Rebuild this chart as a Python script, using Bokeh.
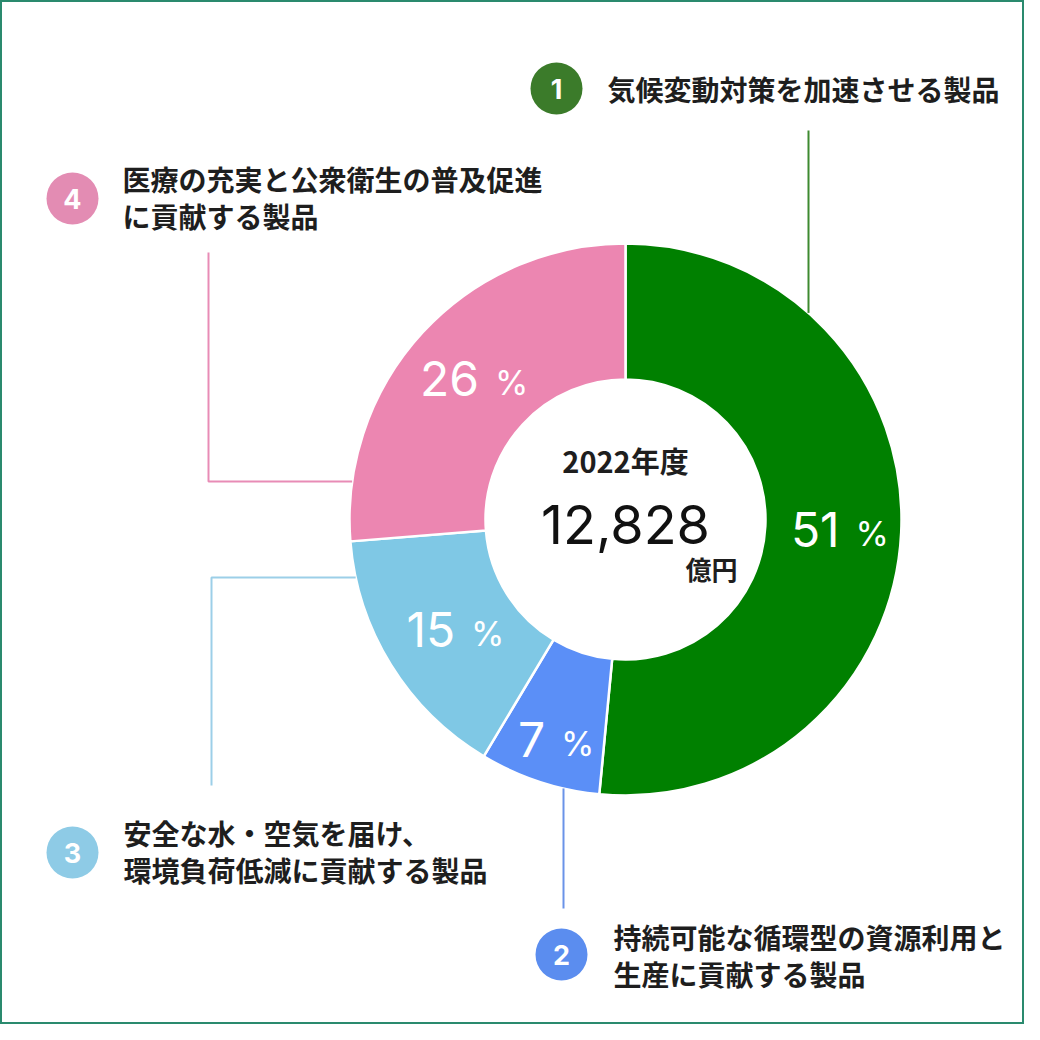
import math
from bokeh.plotting import figure
from bokeh.models import Range1d
from bokeh.core.properties import value
from bokeh.embed import file_html
from bokeh.resources import INLINE

# ---------------- data ----------------
badge_numbers = ["1", "2", "3", "4"]
category_lines = [
    ["気候変動対策を加速させる製品"],
    ["持続可能な循環型の資源利用と", "生産に貢献する製品"],
    ["安全な水・空気を届け、", "環境負荷低減に貢献する製品"],
    ["医療の充実と公衆衛生の普及促進", "に貢献する製品"],
]
shares = [51, 7, 15, 26]
year_label = "2022年度"
total_value = "12,828"
unit_label = "億円"

# ---------------- styles / layout ----------------
slice_colors = ["#008000", "#5b8ff7", "#7fc8e5", "#ec86b1"]
badge_colors = ["#3b7b2a", "#5b8def", "#8ecbe6", "#e38cb3"]
line_colors = ["#3e8a30", "#6a93e8", "#9ccfe8", "#e88cb6"]
text_color = "#1e1e1e"
JP = value("Noto Sans CJK JP")
NUM = value("Inter")
PCT = value("Inter")

W = H = 1024
def Y(y):  # reference pixel row -> data y
    return 1040 - y

cx, cy = 625, Y(519)
r_in, r_out = 140, 276
label_r = [208, 232, 208, 208]

p = figure(width=W, height=H, x_range=Range1d(0, 1024), y_range=Range1d(16, 1040),
           output_backend="svg", toolbar_location=None, min_border=0,
           background_fill_color="white", border_fill_color="white")
p.axis.visible = False
p.grid.visible = False
p.outline_line_color = "#2a8a6e"
p.outline_line_width = 3

# ---------------- donut ----------------
total = sum(shares)
starts, ends, mids = [], [], []
a = math.pi / 2
for s in shares:
    e = a - 2 * math.pi * s / total
    starts.append(a); ends.append(e); mids.append((a + e) / 2)
    a = e

p.annular_wedge(x=cx, y=cy, inner_radius=r_in, outer_radius=r_out,
                start_angle=starts, end_angle=ends, direction="clock",
                fill_color=slice_colors, line_color="white", line_width=2.5)

# percentage labels
num_fs, pct_fs, gap = 48, 34, 16
for s, m, r in zip(shares, mids, label_r):
    lx = cx + r * math.cos(m)
    ly = cy + r * math.sin(m)
    txt = str(s)
    wn = len(txt) * 0.6 * num_fs
    wp = 0.85 * pct_fs
    left = lx - (wn + gap + wp) / 2
    p.text(x=[left + wn], y=[ly], text=[txt], text_font=NUM, text_font_size=f"{num_fs}px",
           text_color="white", text_align="right", text_baseline="middle")
    p.text(x=[left + wn + gap], y=[ly - 4], text=["%"], text_font=PCT, text_font_size=f"{pct_fs}px",
           text_color="white", text_align="left", text_baseline="middle")

# center texts
p.text(x=[cx], y=[Y(459)], text=[year_label], text_font=JP, text_font_size="29px",
       text_font_style="bold", text_color=text_color, text_align="center", text_baseline="middle")
p.text(x=[cx], y=[Y(524)], text=[total_value], text_font=NUM, text_font_size="54px",
       text_color="#111111", text_align="center", text_baseline="middle")
p.text(x=[711], y=[Y(568)], text=[unit_label], text_font=JP, text_font_size="26px",
       text_font_style="bold", text_color=text_color, text_align="center", text_baseline="middle")

# ---------------- leader lines ----------------
def edge_y(x, sign):
    return cy + sign * math.sqrt(r_out**2 - (x - cx) ** 2)
def edge_x(yref):
    yy = Y(yref)
    return cx - math.sqrt(r_out**2 - (yy - cy) ** 2)

leaders_xs = [
    [808, 808],
    [563, 563],
    [edge_x(577), 211, 211],
    [edge_x(481), 208, 208],
]
leaders_ys = [
    [Y(130), edge_y(808, 1)],
    [edge_y(563, -1), Y(908)],
    [Y(577), Y(577), Y(785)],
    [Y(481), Y(481), Y(252)],
]
p.multi_line(xs=leaders_xs, ys=leaders_ys, line_color=line_colors, line_width=2)

# ---------------- badges and category labels ----------------
badge_pos = [(556, 88), (561, 954), (72, 852), (72, 198)]
text_pos = [(607, [88]), (613, [936, 973]), (123, [832, 869]), (122, [178, 215])]

for num, col, (bx, by) in zip(badge_numbers, badge_colors, badge_pos):
    p.circle(x=[bx], y=[Y(by)], radius=26, fill_color=col, line_color=None)
    p.text(x=[bx], y=[Y(by)], text=[num], text_font=PCT, text_font_size="27px",
           text_font_style="bold", text_color="white", text_align="center", text_baseline="middle")

for lines, (tx, tys) in zip(category_lines, text_pos):
    for ln, ty in zip(lines, tys):
        p.text(x=[tx], y=[Y(ty)], text=[ln], text_font=JP, text_font_size="28px",
               text_font_style="bold", text_color=text_color, text_align="left", text_baseline="middle")

open("out.html", "w").write(file_html(p, INLINE))
